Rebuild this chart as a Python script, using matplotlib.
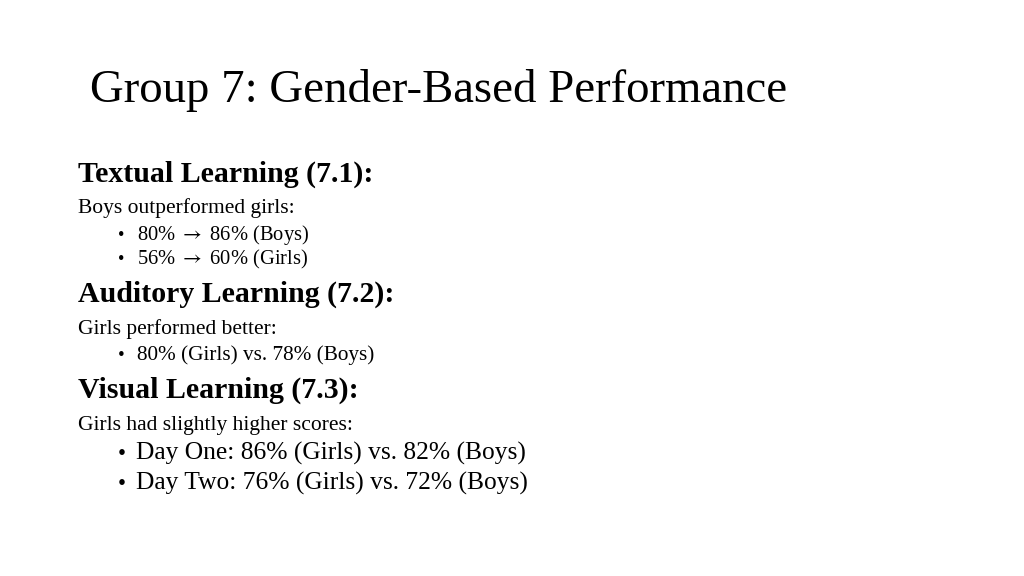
import matplotlib
matplotlib.use("Agg")
import matplotlib.pyplot as plt

title = "Group 7: Gender-Based Performance"
headings = ["Textual Learning (7.1):", "Auditory Learning (7.2):", "Visual Learning (7.3):"]
intros = ["Boys outperformed girls:", "Girls performed better:", "Girls had slightly higher scores:"]
bullets = [
    ["80% $\\rightarrow$ 86% (Boys)", "56% $\\rightarrow$ 60% (Girls)"],
    ["80% (Girls) vs. 78% (Boys)"],
    ["Day One: 86% (Girls) vs. 82% (Boys)", "Day Two: 76% (Girls) vs. 72% (Boys)"],
]

# layout (pixel baselines)
heading_y = [182, 302, 398]
intro_y = [213, 334, 430]
bullet_y = [[240, 264], [360], [460, 490]]
bullet_size = [14.8, 15.3, 18.4]

plt.rcParams['font.family'] = ['Liberation Serif', 'DejaVu Serif']
plt.rcParams['mathtext.fontset'] = 'stix'
fig = plt.figure(figsize=(10.24, 5.76), dpi=100)
ax = fig.add_axes([0, 0, 1, 1])
ax.set_xlim(0, 1024)
ax.set_ylim(576, 0)
ax.axis('off')

ax.text(90, 102, title, fontsize=33.7, va='baseline', ha='left', color='black')
for i in range(3):
    ax.text(78, heading_y[i], headings[i], fontsize=21.5, fontweight='bold', va='baseline', ha='left')
    ax.text(78, intro_y[i], intros[i], fontsize=15.5, va='baseline', ha='left')
    for b, y in zip(bullets[i], bullet_y[i]):
        ax.text(118, y, "\u2022", fontsize=bullet_size[i] * 0.9, va='baseline', ha='left')
        ax.text(137 if i < 2 else 136, y, b, fontsize=bullet_size[i], va='baseline', ha='left')

fig.savefig("out.png", dpi=100)
